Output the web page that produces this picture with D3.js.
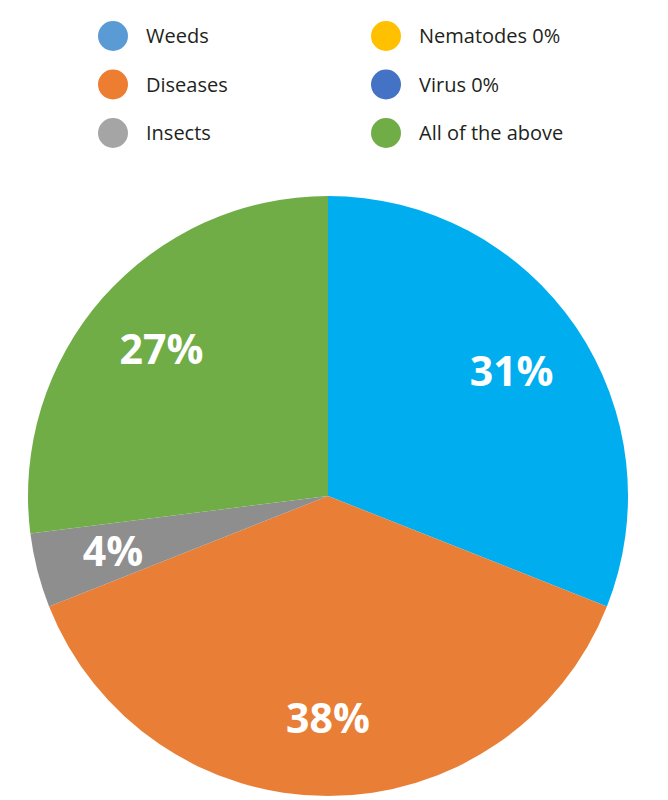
<!DOCTYPE html>
<html>
<head>
<meta charset="utf-8">
<script src="https://cdn.jsdelivr.net/npm/d3@7"></script>
<style>
  body { margin: 0; background: #fff; }
  svg { display: block; font-family: "Open Sans", sans-serif; }
</style>
</head>
<body>
<div id="chart"></div>
<script>
// data
var categories = ["Weeds", "Diseases", "Insects", "Nematodes", "Virus", "All of the above"];
var values = [31, 38, 4, 0, 0, 27];
var legendLabels = ["Weeds", "Diseases", "Insects", "Nematodes 0%", "Virus 0%", "All of the above"];
var legendColors = ["#5b9bd5", "#ed7d31", "#a5a5a5", "#ffc000", "#4472c4", "#70ad47"];
var sliceColors = ["#00aeef", "#e97f36", "#8e8e8e", "#ffc000", "#4472c4", "#70ad47"];

var svgWidth = 668;
var svgHeight = 800;

var svg = d3.select("#chart").append("svg")
  .attr("width", svgWidth)
  .attr("height", svgHeight);

var rows = categories.map(function(c, i) {
  return { name: c, value: values[i], label: legendLabels[i], legendColor: legendColors[i], color: sliceColors[i] };
});

// legend: first three in left column, last three in right column
var legendOrder = [0, 1, 2, 3, 4, 5];
var legendX = d3.scalePoint().domain([0, 1]).range([113, 386]);
var legendY = d3.scalePoint().domain([0, 1, 2]).range([36, 133]);

var legend = svg.append("g");
var item = legend.selectAll("g")
  .data(legendOrder.map(function(i) { return rows[i]; }))
  .enter()
  .append("g")
  .attr("transform", function(d, i) {
    return "translate(" + legendX(Math.floor(i / 3)) + "," + legendY(i % 3) + ")";
  });

item.append("circle")
  .attr("r", 15)
  .attr("fill", function(d) { return d.legendColor; });

item.append("text")
  .attr("x", 33)
  .attr("dy", "0.36em")
  .style("font-size", "20px")
  .attr("fill", "#231f20")
  .text(function(d) { return d.label; });

// pie
var cx = 328, cy = 496, radius = 300;

var pie = d3.pie()
  .sort(null)
  .value(function(d) { return d.value; });

var arcs = pie(rows.filter(function(d) { return d.value > 0; }));

var arc = d3.arc().innerRadius(0).outerRadius(radius);
var labelArc = d3.arc().innerRadius(222).outerRadius(222);

var pieGroup = svg.append("g")
  .attr("transform", "translate(" + cx + "," + cy + ")");

pieGroup.selectAll("path")
  .data(arcs)
  .enter()
  .append("path")
  .attr("d", arc)
  .attr("fill", function(d) { return d.data.color; });

pieGroup.selectAll("text")
  .data(arcs)
  .enter()
  .append("text")
  .attr("transform", function(d) { return "translate(" + labelArc.centroid(d) + ")"; })
  .attr("text-anchor", "middle")
  .attr("dy", "0.36em")
  .attr("fill", "#fff")
  .style("font-size", "41px")
  .style("font-weight", "bold")
  .text(function(d) { return d.data.value + "%"; });
</script>
</body>
</html>
